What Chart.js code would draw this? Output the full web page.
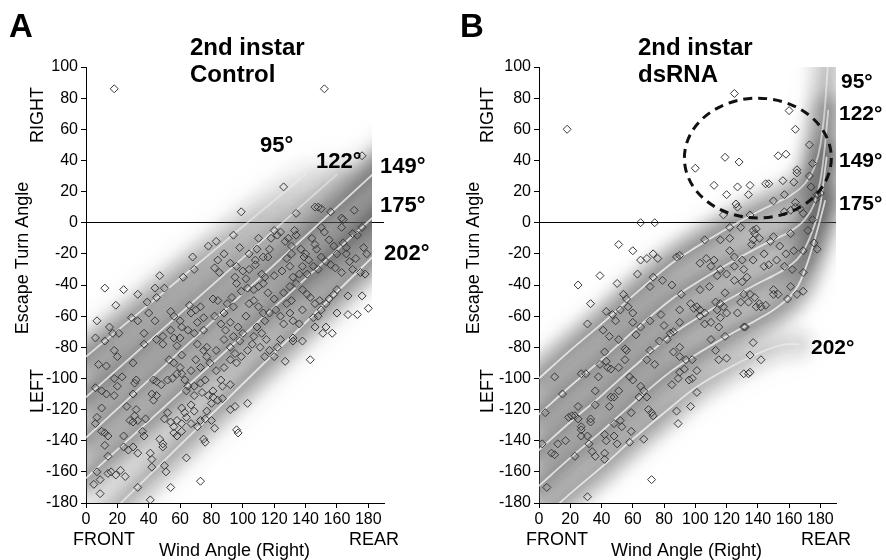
<!DOCTYPE html>
<html><head><meta charset="utf-8">
<script src="https://cdn.jsdelivr.net/npm/chart.js@4.4.1/dist/chart.umd.min.js"></script>
<style>
html,body{margin:0;padding:0;background:#fff;}
#wrap{position:relative;width:886px;height:560px;overflow:hidden;}
.panel{position:absolute;top:0;width:443px;height:560px;}
</style></head><body>
<div id="wrap">
 <div class="panel" style="left:0"><canvas id="cA"></canvas></div>
 <div class="panel" style="left:443px"><canvas id="cB"></canvas></div>
</div>
<script>
// ---------- axis ticks ----------
const windTicks = [0,20,40,60,80,100,120,140,160,180];
const turnTicks = [-180,-160,-140,-120,-100,-80,-60,-40,-20,0,20,40,60,80,100];
const bandLabels = ['95°','122°','149°','175°','202°'];

// ---------- panel A: 2nd instar Control  [wind angle, escape turn angle] ----------
const controlData = [
[18,86],[152,86],[176,43],[126,23],[99,7],[146,10],[148,10],[150,9],[156,7],[134,6],[163,3],[164,2],[171,8],[176,-3],[170,-7],[163,-3],[150,-3],[152,-6],
[83,-12],[68,-22],[94,-8],[98,-16],[109,-17],[84,-24],[82,-29],[85,-32],[62,-35],[69,-30],[47,-34],[120,-5],[122,-8],[118,-10],[124,-6],[117,-17],[116,-22],[108,-24],
[127,-12],[129,-10],[131,-15],[133,-5],[134,-8],[137,-17],[140,-20],[139,-22],[144,-10],[146,-14],[147,-17],[155,-11],[158,-15],[164,-13],[166,-16],[166,-20],
[173,-8],[177,-16],[179,-20],[128,-23],[130,-28],[131,-20],[142,-24],[145,-28],[148,-30],[150,-22],[153,-25],[156,-27],[159,-29],[163,-32],[175,-32],[178,-33],
[92,-26],[96,-28],[100,-31],[104,-30],[108,-27],[112,-33],[114,-35],[120,-34],[125,-31],[132,-35],[136,-33],[95,-35],[102,-36],[88,-20],[78,-15],[160,-20],
[168,-25],[170,-30],[172,-23],[138,-28],[141,-33],[110,-10],[113,-22],[104,-20],
[12,-42],[24,-43],[19,-53],[7,-63],[6,-74],[12,-76],[15,-67],[17,-71],[21,-71],[8,-91],[13,-92],[6,-106],[10,-108],[13,-110],[10,-119],[7,-125],[6,-129],
[10,-134],[12,-135],[14,-137],[12,-143],[14,-150],[16,-160],[14,-161],[19,-162],[7,-160],[9,-165],[5,-168],[9,-174],[22,-159],[25,-163],[18,-82],[20,-86],
[18,-100],[20,-105],[18,-111],[23,-99],[26,-118],[30,-90],[30,-110],[29,-61],[33,-46],[33,-63],[39,-51],[37,-71],[37,-78],[32,-101],[31,-103],[32,-120],
[31,-124],[33,-127],[38,-126],[36,-134],[37,-137],[28,-127],[30,-128],[24,-137],[24,-144],[27,-146],[30,-144],[33,-148],[33,-170],[41,-148],[42,-152],
[42,-157],[41,-178],[47,-139],[49,-142],[49,-144],[51,-160],[50,-156],[54,-170],[44,-42],[45,-48],[50,-42],[40,-58],[44,-63],[45,-75],[49,-73],[49,-78],
[43,-101],[45,-102],[48,-104],[52,-101],[42,-110],[45,-111],[43,-114],[54,-57],[56,-60],[54,-69],[56,-74],[60,-63],[61,-67],[60,-74],[58,-79],[61,-85],
[53,-88],[56,-90],[58,-97],[55,-100],[60,-93],[61,-97],[63,-101],[65,-105],[52,-122],[50,-126],[54,-128],[56,-131],[58,-127],[61,-119],[63,-122],[64,-125],
[61,-129],[56,-135],[58,-137],[61,-134],[64,-151],[76,-141],[73,-166],[71,-131],[73,-127],[75,-139],[67,-117],[69,-111],[67,-129],[69,-121],[66,-53],[67,-58],
[70,-56],[73,-54],[75,-61],[65,-69],[69,-71],[71,-64],[75,-69],[71,-78],[75,-82],[77,-86],[79,-90],[70,-88],[73,-93],[67,-95],[64,-108],[69,-105],[73,-103],
[76,-101],[74,-109],[78,-111],[81,-112],[76,-126],[80,-127],[77,-121],[80,-116],[84,-114],[87,-113],[82,-132],[92,-120],[95,-118],[96,-133],[97,-135],
[103,-116],[92,-104],[87,-105],[86,-101],[81,-108],[81,-49],[84,-50],[88,-58],[90,-52],[93,-48],[94,-54],[82,-60],[86,-65],[89,-69],[92,-64],[94,-73],[97,-67],
[77,-80],[83,-82],[88,-75],[92,-80],[95,-84],[98,-76],[100,-71],[83,-95],[88,-93],[92,-88],[96,-90],[99,-86],[103,-82],[106,-78],[102,-60],[104,-52],[107,-50],
[110,-54],[113,-58],[99,-44],[103,-42],[107,-43],[110,-41],[113,-39],[116,-45],[120,-49],[96,-39],[109,-67],[112,-71],[115,-75],[117,-82],[120,-86],[122,-80],
[124,-75],[107,-73],[111,-80],[114,-86],[114,-63],[117,-58],[121,-56],[124,-60],[126,-65],[128,-52],[131,-50],[130,-58],[132,-63],[136,-65],[138,-56],[126,-45],
[130,-41],[134,-39],[138,-43],[141,-46],[143,-48],[146,-52],[149,-50],[153,-52],[155,-49],[158,-46],[160,-43],[153,-67],[157,-71],[151,-71],[143,-88],[132,-74],
[132,-76],[138,-76],[145,-61],[146,-67],[167,-47],[167,-59],[173,-59],[176,-47],[180,-55],[160,-58],[127,-89],[148,-60],[150,-56]
];

// ---------- panel B: 2nd instar dsRNA ----------
const dsrnaData = [
[18,60],[125,83],[160,72],[164,60],[173,50],[100,35],[119,42],[128,39],[153,43],[158,44],[175,38],[165,34],[165,32],[173,30],[112,24],[127,23],[135,24],[145,25],
[147,25],[156,27],[163,26],[134,18],[120,18],[126,12],[127,10],[118,5],[135,5],[150,14],[157,18],[164,13],[157,7],[161,8],[164,10],[167,9],[169,6],[178,18],
[180,19],[177,15],[174,23],[175,2],[65,0],[74,0],[122,-3],[129,-3],[137,-5],[139,-4],[138,-7],[141,-10],[137,-11],[136,-14],[161,-7],[172,-5],[51,-14],[60,-18],
[65,-24],[69,-23],[73,-20],[76,-23],[88,-22],[90,-21],[106,-11],[103,-26],[107,-23],[110,-28],[112,-24],[116,-11],[122,-10],[122,-18],[125,-22],[130,-24],
[114,-34],[116,-30],[120,-33],[125,-28],[131,-30],[133,-35],[137,-24],[144,-20],[148,-12],[150,-9],[154,-15],[158,-20],[163,-18],[169,-18],[176,-13],[178,-17],
[144,-28],[147,-27],[152,-24],[157,-28],[162,-30],[169,-32],[39,-34],[63,-33],[73,-35],
[25,-40],[33,-52],[50,-39],[47,-59],[49,-63],[52,-56],[54,-46],[56,-49],[57,-54],[60,-58],[31,-65],[41,-69],[45,-73],[51,-75],[55,-81],[62,-72],[60,-64],
[65,-67],[71,-63],[71,-41],[79,-37],[85,-40],[91,-46],[97,-52],[90,-56],[90,-64],[101,-54],[103,-56],[106,-58],[103,-60],[99,-55],[109,-41],[103,-43],
[113,-51],[116,-52],[114,-56],[118,-54],[119,-45],[120,-58],[116,-61],[115,-67],[106,-65],[110,-64],[127,-58],[131,-67],[135,-46],[134,-51],[141,-52],
[139,-54],[145,-53],[150,-43],[150,-46],[161,-41],[165,-46],[169,-44],[125,-37],[130,-38],[43,-57],[78,-59],[80,-66],[84,-71],[86,-70],[77,-76],[82,-75],
[86,-83],[90,-80],[71,-82],[69,-88],[74,-91],[90,-86],[94,-88],[98,-88],[101,-95],[93,-94],[90,-96],[89,-100],[96,-101],[98,-100],[101,-109],[97,-118],
[88,-121],[89,-129],[85,-104],[58,-99],[60,-101],[65,-105],[67,-108],[64,-112],[69,-112],[70,-120],[72,-122],[73,-124],[59,-122],[59,-134],[58,-141],
[67,-139],[72,-165],[51,-108],[46,-112],[44,-93],[46,-94],[51,-93],[55,-88],[56,-82],[42,-83],[43,-89],[39,-91],[38,-99],[36,-108],[36,-117],[33,-126],
[33,-128],[45,-118],[48,-112],[42,-136],[43,-140],[42,-148],[42,-152],[48,-129],[52,-127],[53,-131],[48,-137],[50,-142],[31,-137],[32,-142],[34,-147],
[36,-150],[25,-118],[23,-124],[25,-126],[27,-131],[27,-133],[27,-97],[30,-97],[15,-110],[10,-99],[4,-122],[2,-142],[19,-125],[21,-124],[17,-140],[12,-142],
[8,-148],[10,-149],[23,-150],[5,-170],[31,-176],[27,-137],[110,-75],[119,-73],[113,-82],[115,-88],[120,-87],[131,-97],[134,-97],[135,-96],[135,-85],
[137,-77],[142,-88],[132,-67],[153,-46],[159,-49],[142,-54],[138,-48],[131,-46],[129,-51]
];

// ---------- model bands (centre lines) ----------
const controlBands = [
  [[0,-86],[140,31]],
  [[0,-112],[160,31]],
  [[0,-138],[200,47]],
  [[0,-164],[200,19]],
  [[6,-196],[200,-5]]
];
const controlBandShade = [[1.0,0.7,0.12],[1.1,0.85,0.3],[0.9,0.95,1.35],[0.85,1.0,1.7],[0.55,0.85,1.0]];
const dsrnaBands = [
  [[0,-100],[20,-82],[40,-65],[60,-47],[85,-26],[100,-16],[120,-4],[140,7],[150,12],[160,17],[170,25],[176,35],[180,50],[183,75],[185,105]],
  [[0,-123],[20,-105],[40,-88],[60,-70],[85,-49],[100,-39],[120,-27],[140,-16],[150,-11],[160,-6],[170,2],[176,12],[180,27],[183,50],[185,72]],
  [[0,-146],[20,-128],[40,-111],[60,-93],[85,-72],[100,-62],[120,-50],[140,-39],[150,-34],[160,-28],[168,-20],[175,-5],[180,12],[184,42]],
  [[0,-169],[20,-151],[40,-134],[60,-116],[85,-95],[100,-85],[120,-73],[140,-62],[150,-56],[160,-48],[166,-40],[172,-25],[178,-5],[183,14]],
  [[0,-192],[20,-174],[40,-157],[60,-139],[85,-118],[100,-106],[120,-94],[140,-84],[150,-80],[160,-78],[166,-78]]
];
const dsrnaBandShade = [[0.9,1.0,0.5],[1.0,1.0,0.6],[1.0,1.0,0.75],[1.0,1.0,0.85],[0.75,0.8,0.3]];
const dsrnaCircle = {x:140, y:41.5, rx:47, ry:38.5};

const FONT = "'Liberation Sans', Arial, Helvetica, sans-serif";
const toXY = a => a.map(p => ({x:p[0], y:p[1]}));

function bandGrad(pts, stops, base, alpha){
  return function(ctx){
    const ch = ctx.chart, xs = ch.scales && ch.scales.x, ys = ch.scales && ch.scales.y;
    if (!ch.chartArea || !xs || !ys) return 'rgba(' + base + ',' + alpha + ')';
    const p0 = pts[0], p1 = pts[pts.length-1];
    const g = ch.ctx.createLinearGradient(xs.getPixelForValue(p0[0]), ys.getPixelForValue(p0[1]),
                                          xs.getPixelForValue(p1[0]), ys.getPixelForValue(p1[1]));
    stops.forEach((s,i) => g.addColorStop(i/(stops.length-1), 'rgba(' + base + ',' + Math.min(1, alpha*s).toFixed(3) + ')'));
    return g;
  };
}

// layers: [width, alpha, blur]
function bandSets(bands, shades, layers, clips, curved){
  const out = [];
  bands.forEach((b, i) => {
    layers.forEach((L, k) => {
      out.push({
        data: toXY(b), showLine: true, pointRadius: 0, pointHoverRadius: 0,
        borderWidth: L[0], borderColor: bandGrad(b, shades[i], '85,85,85', L[1]),
        borderCapStyle: 'round', borderJoinStyle: 'round', blur: L[2],
        cubicInterpolationMode: curved ? 'monotone' : 'default', tension: 0,
        clip: clips[i], order: 20 + k
      });
    });
    out.push({
      data: toXY(b), showLine: true, pointRadius: 0, pointHoverRadius: 0,
      borderWidth: 1.8, borderColor: bandGrad(b, shades[i].map(s => Math.min(1, s + 0.2)), '255,255,255', 0.7),
      borderCapStyle: 'round', blur: 0.7,
      cubicInterpolationMode: curved ? 'monotone' : 'default', tension: 0,
      clip: clips[i], order: 10
    });
  });
  return out;
}

function scatterSet(d){
  return {data: toXY(d), pointStyle: 'rectRot', pointRadius: 4, pointBorderWidth: 1,
    pointBorderColor: '#383838', pointBackgroundColor: 'rgba(255,255,255,0)', showLine: false, order: 0};
}

const blurPlugin = {
  id: 'bandBlur',
  beforeDatasetDraw(chart, args){
    const b = chart.data.datasets[args.index].blur;
    if (b){ chart.ctx.save(); chart.ctx.filter = 'blur(' + b + 'px)'; }
  },
  afterDatasetDraw(chart, args){
    if (chart.data.datasets[args.index].blur){ chart.ctx.restore(); }
  }
};

const textPlugin = {
  id: 'texts',
  afterDraw(chart, args, opts){
    const ctx = chart.ctx;
    (opts.items || []).forEach(it => {
      ctx.save();
      ctx.fillStyle = '#000';
      ctx.font = it.f + ' ' + FONT;
      ctx.textBaseline = 'alphabetic';
      if (it.rot){
        ctx.translate(it.x, it.y); ctx.rotate(-Math.PI/2);
        ctx.textAlign = 'center'; ctx.fillText(it.t, 0, 0);
      } else {
        ctx.textAlign = 'left'; ctx.fillText(it.t, it.x, it.y);
      }
      ctx.restore();
    });
  }
};

const ellipsePlugin = {
  id: 'ellipse',
  afterDatasetsDraw(chart, args, opts){
    if (!opts.circle) return;
    const c = opts.circle, xs = chart.scales.x, ys = chart.scales.y, ctx = chart.ctx;
    const cx = xs.getPixelForValue(c.x), cy = ys.getPixelForValue(c.y);
    const rx = Math.abs(xs.getPixelForValue(c.x + c.rx) - cx), ry = Math.abs(ys.getPixelForValue(c.y + c.ry) - cy);
    ctx.save();
    ctx.beginPath(); ctx.ellipse(cx, cy, rx, ry, 0, 0, Math.PI*2);
    ctx.setLineDash([9,6]); ctx.lineWidth = 3; ctx.strokeStyle = '#111'; ctx.stroke();
    ctx.restore();
  }
};

function makeChart(id, datasets, yWidth, padRight, items, circle){
  return new Chart(document.getElementById(id), {
    type: 'scatter',
    data: {datasets},
    options: {
      responsive: true, maintainAspectRatio: false, animation: false, events: [],
      layout: {padding: {left: 0, right: padRight, top: 67, bottom: 27}},
      plugins: {legend: {display: false}, tooltip: {enabled: false}, texts: {items}, ellipse: {circle}},
      scales: {
        x: {type: 'linear', min: 0, max: 190,
          afterBuildTicks: s => { s.ticks = windTicks.map(v => ({value: v})); },
          afterFit: s => { s.height = 30; },
          ticks: {font: {family: FONT, size: 16}, color: '#000', padding: 2, maxRotation: 0, autoSkip: false},
          grid: {display: true, drawOnChartArea: false, drawTicks: true, tickLength: 5, tickColor: '#000', color: '#000'},
          border: {display: true, color: '#000', width: 1}},
        y: {type: 'linear', min: -180, max: 100, z: 1,
          afterBuildTicks: s => { s.ticks = turnTicks.map(v => ({value: v})); },
          afterFit: s => { s.width = yWidth; },
          ticks: {font: {family: FONT, size: 16}, color: '#000', padding: 3, autoSkip: false},
          grid: {display: true, drawOnChartArea: true, drawTicks: true, tickLength: 5, tickColor: '#000',
                 color: c => (c.tick && c.tick.value === 0) ? '#000' : 'rgba(0,0,0,0)'},
          border: {display: true, color: '#000', width: 1}}
      }
    },
    plugins: [blurPlugin, textPlugin, ellipsePlugin]
  });
}

const clipA = [0, 0, {left:0, top:0, right:-12, bottom:0}, {left:0, top:0, right:-12, bottom:0}, {left:0, top:0, right:-12, bottom:0}];
const dsA = [scatterSet(controlData)].concat(bandSets(controlBands, controlBandShade, [[50, 0.14, 10], [34, 0.36, 6], [14, 0.26, 3]], clipA, false));
const itemsA = [
  {t:'A', x:9, y:37, f:'bold 33px'},
  {t:'2nd instar', x:190, y:55, f:'bold 24px'},
  {t:'Control', x:190, y:82, f:'bold 24px'},
  {t:bandLabels[0], x:260, y:152, f:'bold 22px'},
  {t:bandLabels[1], x:316, y:168, f:'bold 22px'},
  {t:bandLabels[2], x:380, y:173, f:'bold 22px'},
  {t:bandLabels[3], x:380, y:212, f:'bold 22px'},
  {t:bandLabels[4], x:384, y:260, f:'bold 22px'},
  {t:'Escape Turn Angle', x:28, y:258, f:'18px', rot:true},
  {t:'RIGHT', x:43, y:115, f:'18px', rot:true},
  {t:'LEFT', x:43, y:391, f:'18px', rot:true},
  {t:'FRONT', x:73, y:545, f:'18px'},
  {t:'REAR', x:349, y:545, f:'18px'},
  {t:'Wind Angle (Right)', x:159, y:556, f:'18px'}
];
makeChart('cA', dsA, 86, 59, itemsA, null);

const clipB = [0, 0, 0, 0, 0];
const dsB = [scatterSet(dsrnaData)].concat(bandSets(dsrnaBands, dsrnaBandShade, [[44, 0.13, 9], [32, 0.36, 6], [13, 0.25, 3]], clipB, true));
const itemsB = [
  {t:'B', x:17, y:37, f:'bold 33px'},
  {t:'2nd instar', x:195, y:55, f:'bold 24px'},
  {t:'dsRNA', x:195, y:82, f:'bold 24px'},
  {t:bandLabels[0], x:398, y:88, f:'bold 21px'},
  {t:bandLabels[1], x:396, y:120, f:'bold 21px'},
  {t:bandLabels[2], x:396, y:167, f:'bold 21px'},
  {t:bandLabels[3], x:396, y:210, f:'bold 21px'},
  {t:bandLabels[4], x:368, y:354, f:'bold 21px'},
  {t:'Escape Turn Angle', x:36, y:258, f:'18px', rot:true},
  {t:'RIGHT', x:50, y:115, f:'18px', rot:true},
  {t:'LEFT', x:50, y:391, f:'18px', rot:true},
  {t:'FRONT', x:83, y:545, f:'18px'},
  {t:'REAR', x:358, y:545, f:'18px'},
  {t:'Wind Angle (Right)', x:168, y:556, f:'18px'}
];
makeChart('cB', dsB, 96, 50, itemsB, dsrnaCircle);
</script>
</body></html>
